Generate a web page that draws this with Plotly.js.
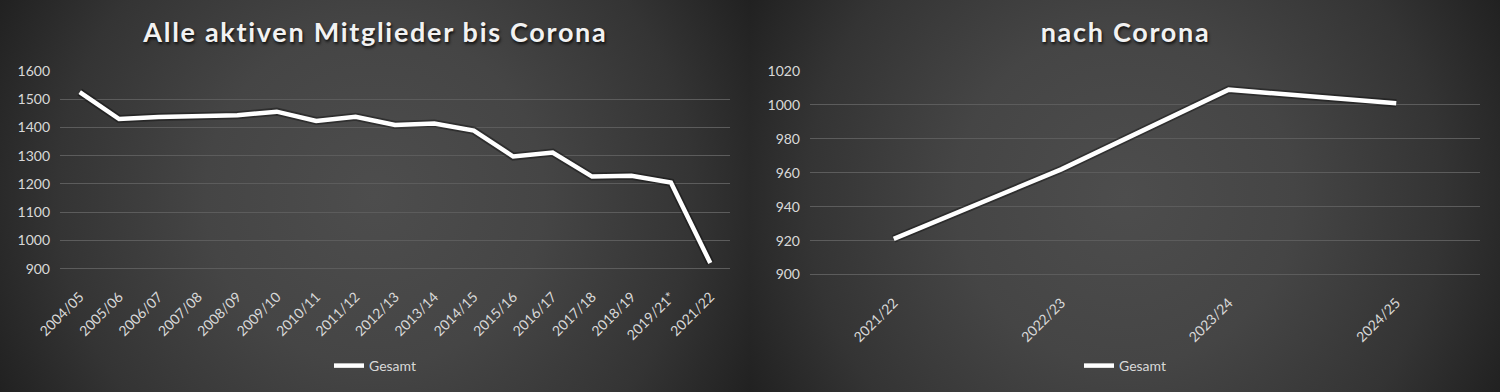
<!DOCTYPE html>
<html>
<head>
<meta charset="utf-8">
<script src="https://cdn.plot.ly/plotly-3.0.1.min.js"></script>
<style>
  html, body { margin: 0; padding: 0; background: #262626; }
  #wrap { position: relative; width: 1500px; height: 392px; overflow: hidden; }
  .bg { position: absolute; top: 0; width: 750px; height: 392px;
        background: radial-gradient(circle farthest-corner at 50% 50%, #4d4d4d 0%, #454545 40%, #343434 75%, #212121 100%); }
  #bgL { left: 0; }
  #bgR { left: 750px; }
  #chart { position: absolute; left: 0; top: 0; width: 1500px; height: 392px; }
  #chart .annotation-text { letter-spacing: 1.7px; }
</style>
</head>
<body>
<div id="wrap">
  <div class="bg" id="bgL"></div>
  <div class="bg" id="bgR"></div>
  <div id="chart"></div>
</div>
<script>
// ---- data ----
const seasonsBefore = ["2004/05","2005/06","2006/07","2007/08","2008/09","2009/10","2010/11","2011/12",
                       "2012/13","2013/14","2014/15","2015/16","2016/17","2017/18","2018/19","2019/21*","2021/22"];
const membersBefore = [1525, 1430, 1437, 1440, 1443, 1456, 1423, 1438, 1409, 1414, 1389, 1297, 1311, 1226, 1229, 1205, 920];

const seasonsAfter = ["2021/22","2022/23","2023/24","2024/25"];
const membersAfter = [921, 962, 1009, 1001];

const seriesName = "Gesamt";
const titleBefore = "Alle aktiven Mitglieder bis Corona";
const titleAfter = "nach Corona";
const yTicksBefore = [900, 1000, 1100, 1200, 1300, 1400, 1500, 1600];
const yTicksAfter = [900, 920, 940, 960, 980, 1000, 1020];

// ---- styling ----
const tickFont = {family: "Lato, 'Open Sans', sans-serif", size: 14, color: "#d9d9d9"};
const gridColor = "#5c5c5c";
const lineColor = "#ffffff";

const traces = [
  {x: seasonsBefore, y: membersBefore, xaxis: "x", yaxis: "y", mode: "lines", showlegend: false,
   hoverinfo: "skip", line: {color: "rgba(0,0,0,0.35)", width: 8}},
  {x: seasonsBefore, y: membersBefore, xaxis: "x", yaxis: "y", mode: "lines", name: seriesName,
   legend: "legend", line: {color: lineColor, width: 4.5}},
  {x: seasonsAfter, y: membersAfter, xaxis: "x2", yaxis: "y2", mode: "lines", showlegend: false,
   hoverinfo: "skip", line: {color: "rgba(0,0,0,0.35)", width: 8}},
  {x: seasonsAfter, y: membersAfter, xaxis: "x2", yaxis: "y2", mode: "lines", name: seriesName,
   legend: "legend2", line: {color: lineColor, width: 4.5}}
];

const W = 1500, H = 392;
const px = v => v / W;
const py = v => (H - v) / H;

function xAxis(domain, anchor, cats) {
  return {
    domain: domain, anchor: anchor, type: "category",
    range: [-0.5, cats.length - 0.5],
    showgrid: false, zeroline: false, showline: false, ticks: "",
    tickangle: -45, tickfont: tickFont, fixedrange: true, ticklabelstandoff: 14
  };
}
function yAxis(domain, anchor, ticks) {
  const span = ticks[ticks.length - 1] - ticks[0];
  return {
    domain: domain, anchor: anchor,
    range: [ticks[0] - span * 0.012, ticks[ticks.length - 1]],
    tickmode: "array", tickvals: ticks, ticktext: ticks.map(String),
    showgrid: true, gridcolor: gridColor, gridwidth: 1,
    zeroline: false, showline: false, ticks: "",
    tickfont: tickFont, fixedrange: true, ticklabelstandoff: 9
  };
}

const layout = {
  width: W, height: H,
  margin: {l: 0, r: 0, t: 0, b: 0},
  paper_bgcolor: "rgba(0,0,0,0)",
  plot_bgcolor: "rgba(0,0,0,0)",
  xaxis: xAxis([px(60), px(730)], "y", seasonsBefore),
  yaxis: yAxis([py(271), py(71)], "x", yTicksBefore),
  xaxis2: xAxis([px(810), px(1480)], "y2", seasonsAfter),
  yaxis2: yAxis([py(277), py(71)], "x2", yTicksAfter),
  legend: {x: px(375), y: py(366), xanchor: "center", yanchor: "middle",
           bgcolor: "rgba(0,0,0,0)", font: tickFont, orientation: "h"},
  legend2: {x: px(1125), y: py(366), xanchor: "center", yanchor: "middle",
            bgcolor: "rgba(0,0,0,0)", font: tickFont, orientation: "h"},
  annotations: [
    {text: titleBefore, xref: "paper", yref: "paper", x: px(375), y: py(32),
     xanchor: "center", yanchor: "middle", showarrow: false,
     font: {family: "Lato, 'Open Sans', sans-serif", size: 27, weight: 700, color: "#f2f2f2",
            shadow: "1px 2px 3px rgba(0,0,0,0.8)"}},
    {text: titleAfter, xref: "paper", yref: "paper", x: px(1125), y: py(32),
     xanchor: "center", yanchor: "middle", showarrow: false,
     font: {family: "Lato, 'Open Sans', sans-serif", size: 27, weight: 700, color: "#f2f2f2",
            shadow: "1px 2px 3px rgba(0,0,0,0.8)"}}
  ],
  showlegend: true
};

Plotly.newPlot("chart", traces, layout, {displayModeBar: false, staticPlot: true});
</script>
</body>
</html>
